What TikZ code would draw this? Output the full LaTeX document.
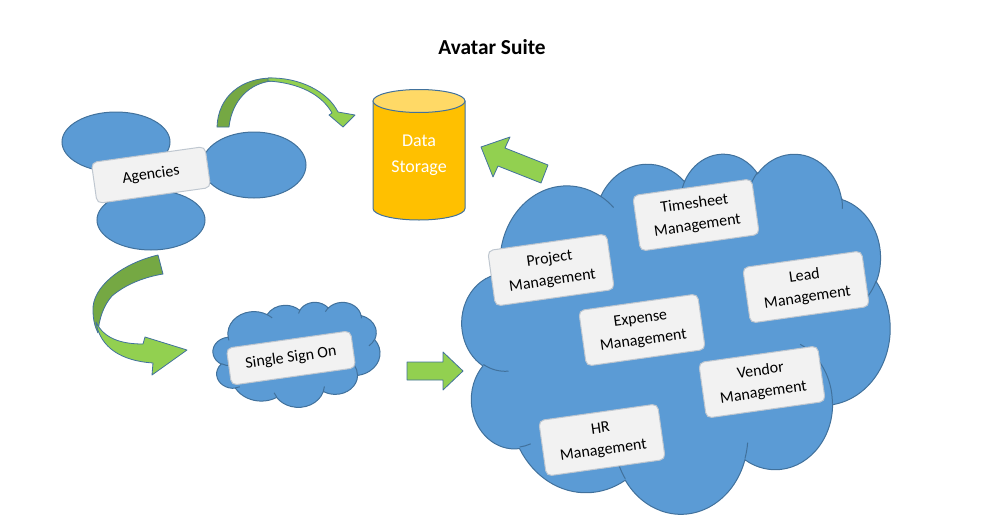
\documentclass[tikz,border=0pt]{standalone}
\usepackage{fontspec}
\setmainfont{Carlito}
\usepackage{tikz}
\usetikzlibrary{arrows.meta}
\definecolor{cloudblue}{HTML}{5B9BD5}
\definecolor{edgeblue}{HTML}{41719C}
\definecolor{cardfill}{HTML}{F2F2F2}
\definecolor{cardedge}{HTML}{BFC7D0}
\definecolor{gold}{HTML}{FFC000}
\definecolor{goldtop}{HTML}{FFD966}
\definecolor{leaf}{HTML}{92D050}
\definecolor{darkleaf}{HTML}{75A843}
\tikzstyle{blob} = [fill=cloudblue, draw=edgeblue, line width=0.75pt]
\tikzstyle{fold} = [draw=edgeblue, line width=0.75pt]
\tikzstyle{card} = [draw=cardedge, fill=cardfill, rounded corners=4pt, rotate=8,
    align=center, inner sep=2pt, line width=0.75pt, font=\fontsize{12}{16.5}\selectfont]
\tikzset{bigcard/.style={card, minimum width=90pt, minimum height=42pt}}
\tikzset{ribbon/.style={fill=leaf, draw=edgeblue, line width=0.6pt, line join=round}}
% arc with office (visual) angles
\newcommand\oarc[4]{arc[x radius=#1, y radius=#2,
    start angle={atan2(#1*sin(#3),#2*cos(#3))},
    delta angle={mod(atan2(#1*sin(#3+#4),#2*cos(#3+#4))-atan2(#1*sin(#3),#2*cos(#3))+720,360)}]}
\newcommand\puffline{(39.00,143.70)
    \oarc{67.53}{91.90}{-190.4875}{123.7805}
    \oarc{53.33}{72.67}{-144.1024}{89.9452}
    \oarc{43.65}{59.45}{-145.8079}{99.7230}
    \oarc{48.57}{65.95}{-130.9861}{117.2417}
    \oarc{53.33}{72.73}{-78.7089}{109.0269}
    \oarc{67.75}{92.20}{-46.2673}{130.2690}
    \oarc{57.85}{78.67}{0.6250}{114.0333}
    \oarc{67.52}{92.15}{22.4516}{115.1726}
    \oarc{77.20}{105.43}{66.2426}{75.7110}
    \oarc{43.60}{59.18}{-274.9421}{146.7356}
    \oarc{43.45}{59.45}{-246.8285}{152.5189} -- cycle}
\newcommand\puffcreases{(46.93,261.77) \oarc{43.45}{59.45}{86.7420}{26.4295}
    (69.28,348.99) \oarc{43.60}{59.18}{73.6105}{11.4487}
    (164.78,390.90) \oarc{67.52}{92.15}{137.6242}{14.0811}
    (288.27,347.51) \oarc{67.52}{92.15}{6.4533}{15.9984}
    (341.29,229.54) \oarc{57.85}{78.67}{-70.2924}{70.9174}
    (417.98,153.54) \oarc{53.33}{72.73}{30.3180}{27.7515}
    (383.24,54.26) \oarc{48.57}{65.95}{-13.7443}{14.8589}
    (290.78,39.52) \oarc{48.57}{65.95}{-149.1815}{18.1954}
    (221.41,47.20) \oarc{43.65}{59.45}{-163.4943}{17.6864}
    (140.00,51.92) \oarc{67.53}{91.90}{-66.7070}{12.3194}
    (41.27,157.89) \oarc{67.53}{91.90}{157.6544}{11.8582}}

\begin{document}
\begin{tikzpicture}[x=0.75pt, y=-0.75pt]
\useasboundingbox (0,0) rectangle (986,532);
    %title
    \node[font=\fontsize{16}{19}\selectfont\bfseries] (title) at (492,47) {Avatar Suite};
    %agencies
    \draw[blob] (116,142) ellipse[x radius=54, y radius=30];
    \draw[blob] (254,165) ellipse[x radius=52, y radius=33];
    \draw[blob] (151,220) ellipse[x radius=54, y radius=30];
    \node[card, minimum width=86pt, minimum height=31pt] (agencies) at (151,175) {Agencies};
    %storage
    \draw[fill=gold, draw=edgeblue, line width=0.75pt] (373,101) -- (373,208.5)
        arc[start angle=180, end angle=0, x radius=46, y radius=11.5] -- (465,101) -- cycle;
    \draw[fill=goldtop, draw=edgeblue, line width=0.75pt] (419,101) ellipse[x radius=46, y radius=11.5];
    \node[text=white, align=center, font=\fontsize{13.5}{19.5}\selectfont] (storage) at (419,155) {Data\\Storage};
    %curved arrows
    \draw[ribbon, fill=darkleaf] (217,127) .. controls (218,96) and (242,78) .. (272,78)
        -- (272,81) .. controls (250,83) and (232,100) .. (229,127) -- cycle;
    \draw[ribbon] (268,78) .. controls (300,77) and (328,92) .. (338,112) -- (355,115) -- (343,127)
        -- (329,115) -- (332,113) .. controls (322,95) and (300,83) .. (268,81) -- cycle;
    \draw[ribbon, fill=darkleaf] (158,255) .. controls (120,264) and (92,288) .. (93,310)
        .. controls (93,320) and (95,327) .. (98,333) .. controls (99,318) and (104,305) .. (112,296)
        .. controls (126,284) and (145,277) .. (163,274) -- cycle;
    \draw[ribbon] (96,322) .. controls (100,348) and (122,361) .. (153,363) -- (152,375) -- (187,350)
        -- (145,337) -- (143,344) .. controls (122,344) and (104,339) .. (96,322) -- cycle;
    %straight arrows
    \draw[ribbon] (407,362) -- (443,362) -- (443,352) -- (463,371) -- (443,390) -- (443,380) -- (407,380) -- cycle;
    \draw[ribbon] (548,165) -- (505,148) -- (510,137) -- (481,147) -- (493,177) -- (498,166) -- (541,183) -- cycle;
    %single sign on
    \begin{scope}[shift={(213,302)}, x=0.2899pt, y=-0.1823pt]
        \draw[blob] \puffline;
        \draw[fold] \puffcreases;
    \end{scope}
    \node[card, minimum width=94pt, minimum height=28pt] (sso) at (291,358) {Single Sign On};
    %suite cloud
    \begin{scope}[shift={(462,153)}, x=0.7431pt, y=-0.6250pt]
        \draw[blob] \puffline;
        \draw[fold] \puffcreases;
    \end{scope}
    %modules
    \node[bigcard] (project) at (551,270) {Project\\Management};
    \node[bigcard] (timesheet) at (696,215) {Timesheet\\Management};
    \node[bigcard] (lead) at (806,287) {Lead\\Management};
    \node[bigcard] (expense) at (642,330) {Expense\\Management};
    \node[bigcard] (vendor) at (762,382) {Vendor\\Management};
    \node[bigcard] (hr) at (602,440) {HR\\Management};
\end{tikzpicture}
\end{document}
